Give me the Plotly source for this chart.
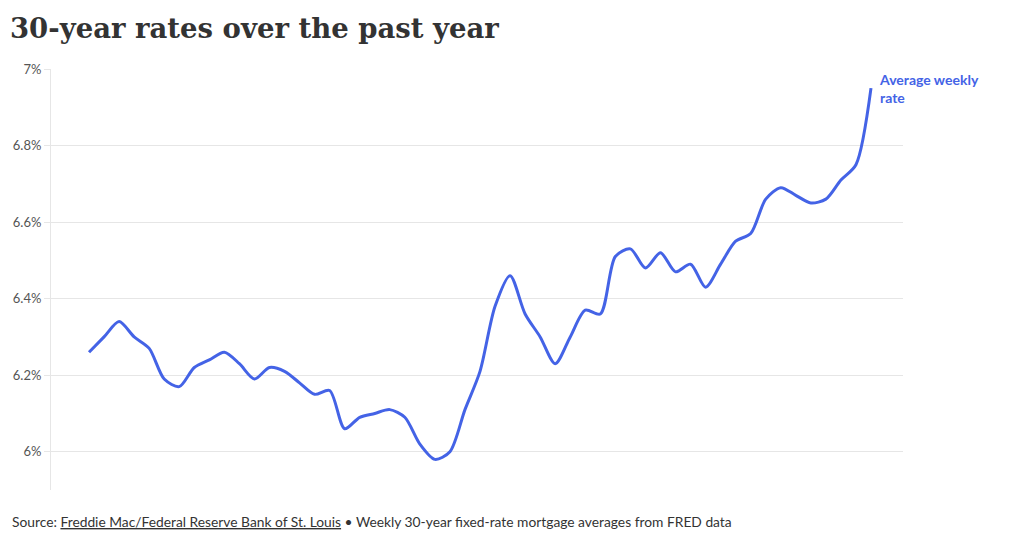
import pandas as pd
import plotly.graph_objects as go

# weekly 30-year fixed rate averages
weeks = pd.date_range(start="2024-01-04", periods=53, freq="7D")
rates = [
    6.26, 6.30, 6.34, 6.30, 6.27, 6.19, 6.17, 6.22, 6.24, 6.26,
    6.23, 6.19, 6.22, 6.21, 6.18, 6.15, 6.16, 6.06, 6.09, 6.10,
    6.11, 6.09, 6.02, 5.98, 6.00, 6.11, 6.21, 6.38, 6.46, 6.36,
    6.30, 6.23, 6.30, 6.37, 6.36, 6.51, 6.53, 6.48, 6.52, 6.47,
    6.49, 6.43, 6.49, 6.55, 6.57, 6.66, 6.69, 6.67, 6.65, 6.66,
    6.71, 6.75, 6.95,
]
tick_values = [6.0, 6.2, 6.4, 6.6, 6.8, 7.0]
tick_labels = ["6%", "6.2%", "6.4%", "6.6%", "6.8%", "7%"]

title_text = "30-year rates over the past year"
series_label = "Average weekly<br>rate"
source_text = (
    "Source: <u>Freddie Mac/Federal Reserve Bank of St. Louis</u> \u2022 "
    "Weekly 30-year fixed-rate mortgage averages from FRED data"
)

LINE = "#4463e6"
GRID = "#e6e6e6"

# the page adds an 8px body margin, so the figure is 8px smaller each way
W, H = 1012, 531
ML, MR, MT, MB = 43, 117, 61, 49
PW, PH = W - ML - MR, H - MT - MB


def build_figure():
    fig = go.Figure(
        go.Scatter(
            x=weeks,
            y=rates,
            mode="lines",
            line=dict(color=LINE, width=3, shape="spline", smoothing=0.8),
            hoverinfo="skip",
            showlegend=False,
        )
    )

    day = pd.Timedelta(days=1)
    annotations = [
        dict(
            x=weeks[-1],
            y=rates[-1],
            xref="x",
            yref="y",
            text="<b>" + series_label + "</b>",
            showarrow=False,
            xanchor="left",
            yanchor="middle",
            align="left",
            xshift=6,
            font=dict(family="Lato", size=14, color=LINE),
        ),
        dict(
            x=(2 - ML) / PW,
            y=(H - MB - 513) / PH,
            xref="paper",
            yref="paper",
            text=source_text,
            showarrow=False,
            xanchor="left",
            yanchor="middle",
            align="left",
            font=dict(family="Lato", size=13.8, color="#333333"),
        ),
    ]

    fig.update_layout(
        width=W,
        height=H,
        margin=dict(l=ML, r=MR, t=MT, b=MB, autoexpand=False),
        paper_bgcolor="white",
        plot_bgcolor="white",
        font=dict(family="Lato", size=13, color="#555555"),
        title=dict(
            text="<b>" + title_text + "</b>",
            font=dict(family="DejaVu Serif", size=27.5, color="#333333"),
            x=2 / W,
            xanchor="left",
            xref="container",
            y=1 - 20 / H,
            yanchor="middle",
            yref="container",
        ),
        xaxis=dict(
            range=[weeks[0] - 17.7 * day, weeks[-1] + 14.9 * day],
            showgrid=False,
            showticklabels=False,
            zeroline=False,
            showline=False,
            ticks="",
            automargin=False,
        ),
        yaxis=dict(
            range=[5.9, 7.0],
            tickvals=tick_values,
            ticktext=tick_labels,
            showgrid=True,
            gridcolor=GRID,
            gridwidth=1,
            zeroline=False,
            showline=True,
            linecolor=GRID,
            linewidth=1,
            ticks="outside",
            ticklen=6,
            tickcolor=GRID,
            tickfont=dict(family="Lato", size=13, color="#555555"),
            automargin=False,
        ),
        annotations=annotations,
    )
    return fig


def main() -> None:
    fig = build_figure()
    fig.write_html("out.html")


if __name__ == "__main__":
    main()
